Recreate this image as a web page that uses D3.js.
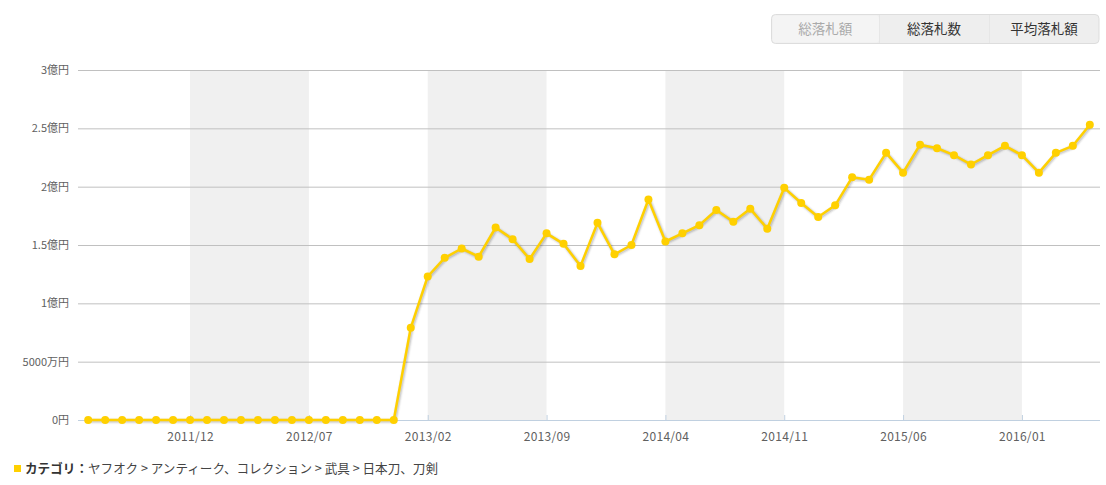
<html>
  <head>
    <meta charset="utf-8" />
    <script src="https://cdnjs.cloudflare.com/ajax/libs/d3/7.6.1/d3.min.js"></script>
    <style>
      body {
        margin: 0;
        background: #fff;
        font-family: "Noto Sans CJK JP", "Noto Sans", sans-serif;
      }
      svg {
        display: block;
      }
    </style>
  </head>
  <body>
    <svg width="1106" height="485"></svg>
  </body>

  <script>
    // 2011/06 .. 2016/05, monthly, values in 億円
    const startMonth = new Date(2011, 5, 1);
    const values = [
      0, 0, 0, 0, 0, 0, 0, 0, 0, 0, 0, 0, 0, 0, 0, 0, 0, 0, 0,
      0.79, 1.23, 1.39, 1.47, 1.4, 1.65, 1.55, 1.38, 1.6, 1.51, 1.32, 1.69,
      1.42, 1.5, 1.89, 1.53,
      1.6, 1.67, 1.8, 1.7, 1.81, 1.64, 1.99, 1.86, 1.74, 1.84, 2.08, 2.06,
      2.29, 2.12, 2.36, 2.33, 2.27, 2.19, 2.27, 2.35, 2.27, 2.12, 2.29, 2.35,
      2.53
    ];
    const yTicks = [0, 0.5, 1, 1.5, 2, 2.5, 3];
    const yTickLabels = ["0円", "5000万円", "1億円", "1.5億円", "2億円", "2.5億円", "3億円"];
    const xTicks = [6, 13, 20, 27, 34, 41, 48, 55]; // month index
    const xTickLabels = ["2011/12", "2012/07", "2013/02", "2013/09", "2014/04", "2014/11", "2015/06", "2016/01"];
    const buttons = ["総落札額", "総落札数", "平均落札額"];
    const legendParts = ["カテゴリ：", "ヤフオク > アンティーク、コレクション > 武具 > 日本刀、刀剣"];

    const months = values.map((v, i) => d3.timeMonth.offset(startMonth, i));
    const data = values.map((v, i) => ({ i: i, date: months[i], v: v }));

    const svg = d3.select("svg");
    const plotL = 78, plotR = 1100, plotT = 70, plotB = 420;
    const lineColor = "#ffd000";

    const x = d3.scaleLinear().domain([-0.6, values.length - 0.4]).range([plotL, plotR]);
    const y = d3.scaleLinear().domain([0, 3]).range([plotB, plotT]);

    // alternating bands
    const bands = [];
    for (let k = 0; k < xTicks.length - 1; k += 2) bands.push([xTicks[k], xTicks[k + 1]]);
    svg.append("g")
      .selectAll("rect")
      .data(bands)
      .join("rect")
      .attr("x", (d) => x(d[0]))
      .attr("y", plotT)
      .attr("width", (d) => x(d[1]) - x(d[0]))
      .attr("height", plotB - plotT)
      .attr("fill", "#f0f0f0");

    // y axis / grid
    const yAxis = d3.axisLeft(y)
      .tickValues(yTicks)
      .tickSize(-(plotR - plotL))
      .tickPadding(9)
      .tickFormat((d, i) => yTickLabels[i]);
    const gy = svg.append("g").attr("transform", `translate(${plotL},0)`).call(yAxis);
    gy.select(".domain").remove();
    gy.selectAll(".tick line").attr("stroke", "#c0c0c0");
    gy.selectAll(".tick text")
      .attr("fill", "#606060")
      .style("font-family", '"Noto Sans CJK JP", sans-serif')
      .style("font-size", "11px");

    // x axis
    const xAxis = d3.axisBottom(x)
      .tickValues(xTicks)
      .tickSize(-5)
      .tickPadding(12)
      .tickFormat((d, i) => xTickLabels[i]);
    const gx = svg.append("g").attr("transform", `translate(0,${plotB})`).call(xAxis);
    gx.select(".domain").attr("stroke", "#c0d0e0").attr("d", `M${plotL},0.5H${plotR}`);
    gx.selectAll(".tick line").attr("stroke", "#c0d0e0");
    gx.selectAll(".tick text")
      .attr("fill", "#606060")
      .style("font-family", '"Noto Sans CJK JP", sans-serif')
      .style("font-size", "12px")
      .style("letter-spacing", "0.3px");

    // series
    const line = d3.line().x((d) => x(d.i)).y((d) => y(d.v));
    const shadow = svg.append("g").attr("transform", "translate(1,1)");
    [5, 3, 1].forEach((w) => {
      shadow.append("path")
        .datum(data)
        .attr("d", line)
        .attr("fill", "none")
        .attr("stroke", "#000")
        .attr("stroke-opacity", 0.04 * (6 - w) / 2)
        .attr("stroke-width", w + 2)
        .attr("stroke-linejoin", "round");
    });
    svg.append("path")
      .datum(data)
      .attr("d", line)
      .attr("fill", "none")
      .attr("stroke", lineColor)
      .attr("stroke-width", 2.5)
      .attr("stroke-linejoin", "round");
    svg.append("g")
      .selectAll("circle")
      .data(data)
      .join("circle")
      .attr("cx", (d) => x(d.i))
      .attr("cy", (d) => y(d.v))
      .attr("r", 4)
      .attr("fill", lineColor);

    // buttons
    const bx = [771.5, 879, 989, 1099];
    const bg = svg.append("g");
    bg.append("rect")
      .attr("x", bx[0]).attr("y", 14.5)
      .attr("width", bx[3] - bx[0]).attr("height", 29)
      .attr("rx", 4)
      .attr("fill", "#eeeeee")
      .attr("stroke", "#dddddd");
    bg.append("rect")
      .attr("x", bx[0] + 1).attr("y", 15.5)
      .attr("width", bx[1] - bx[0] - 1).attr("height", 27)
      .attr("rx", 3)
      .attr("fill", "#f4f4f4");
    [bx[1], bx[2]].forEach((xx) => {
      bg.append("line")
        .attr("x1", xx + 0.5).attr("x2", xx + 0.5)
        .attr("y1", 15).attr("y2", 43)
        .attr("stroke", "#e6e6e6");
    });
    bg.selectAll("text")
      .data(buttons)
      .join("text")
      .attr("x", (d, i) => (bx[i] + bx[i + 1]) / 2)
      .attr("y", 34)
      .attr("text-anchor", "middle")
      .attr("fill", (d, i) => (i === 0 ? "#aaaaaa" : "#333333"))
      .style("font-size", "13.5px")
      .text((d) => d);

    // legend
    svg.append("rect")
      .attr("x", 14).attr("y", 465)
      .attr("width", 7).attr("height", 7)
      .attr("fill", lineColor);
    const lt = svg.append("text")
      .attr("x", 25).attr("y", 473)
      .style("font-size", "12.6px");
    lt.append("tspan").attr("font-weight", "bold").attr("fill", "#333").text(legendParts[0]);
    lt.append("tspan").attr("fill", "#444").text(legendParts[1]);
  </script>
</html>
